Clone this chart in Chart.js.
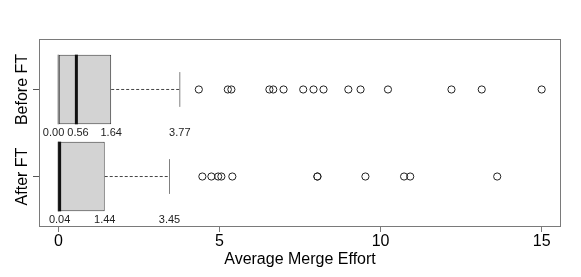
<!DOCTYPE html>
<html><head><meta charset="utf-8">
<script src="https://cdn.jsdelivr.net/npm/chart.js@4/dist/chart.umd.min.js"></script>
<style>html,body{margin:0;padding:0;background:#fff;}</style>
</head><body>
<canvas id="c" width="581" height="277"></canvas>
<script>
// ---- data ----
const groups = ['Before FT', 'After FT'];
const groupPos = [2, 1];
const lowerWhisker = [0, 0];
const q1 = [0, 0];
const median = [0.56, 0.04];
const q3 = [1.64, 1.44];
const upperWhisker = [3.77, 3.45];
const outliersBefore = [4.36, 5.26, 5.37, 6.55, 6.67, 6.99, 7.6, 7.92, 8.23, 9.0, 9.38, 10.23, 12.2, 13.14, 15.0];
const outliersAfter = [4.47, 4.75, 4.96, 5.06, 5.4, 8.04, 8.04, 9.53, 10.73, 10.92, 13.62];
const statLabelsBefore = ['0.00', '0.56', '1.64', '3.77'];
const statLabelsAfter = ['0.04', '1.44', '3.45'];
const xTicks = [0, 5, 10, 15];
const xTitle = 'Average Merge Effort';

const BOX_W = 0.8, CAP_W = 0.4;
const FONT = '"Liberation Sans", Arial, Helvetica, sans-serif';
const outliers = [outliersBefore, outliersAfter];
const statLabels = [statLabelsBefore, statLabelsAfter];

const datasets = [];
datasets.push({
  type: 'bar',
  data: groupPos.map((p, i) => ({ y: p, x: [q1[i], q3[i]] })),
  backgroundColor: '#d3d3d3',
  borderColor: '#3a3a3a',
  borderWidth: 1,
  borderSkipped: false,
  categoryPercentage: 1,
  barPercentage: BOX_W,
  order: 5
});
groupPos.forEach((p, i) => {
  // upper whisker (dashed)
  datasets.push({ type: 'line', data: [{ x: q3[i], y: p }, { x: upperWhisker[i], y: p }],
    borderColor: '#444', borderWidth: 1, borderDash: [3, 2], pointRadius: 0, order: 4 });
  // lower whisker
  datasets.push({ type: 'line', data: [{ x: lowerWhisker[i], y: p }, { x: q1[i], y: p }],
    borderColor: '#444', borderWidth: 1, borderDash: [3, 2], pointRadius: 0, order: 4 });
  // caps
  datasets.push({ type: 'line', data: [{ x: upperWhisker[i], y: p - CAP_W / 2 }, { x: upperWhisker[i], y: p + CAP_W / 2 }],
    borderColor: '#808080', borderWidth: 1, pointRadius: 0, order: 4 });
  datasets.push({ type: 'line', data: [{ x: lowerWhisker[i], y: p - BOX_W / 2 }, { x: lowerWhisker[i], y: p + BOX_W / 2 }],
    borderColor: '#8a8a8a', borderWidth: 1.5, pointRadius: 0, order: 2 });
  // median
  datasets.push({ type: 'line', data: [{ x: median[i], y: p - BOX_W / 2 }, { x: median[i], y: p + BOX_W / 2 }],
    borderColor: '#111', borderWidth: 3, pointRadius: 0, order: 1 });
  // outliers
  datasets.push({ type: 'line', showLine: false, data: outliers[i].map(v => ({ x: v, y: p })),
    pointRadius: 3.6, pointBorderWidth: 1, pointBorderColor: '#222', pointBackgroundColor: 'rgba(0,0,0,0)', order: 0 });
});

const decorPlugin = {
  id: 'decor',
  afterDatasetsDraw(chart) {
    const ctx = chart.ctx, a = chart.chartArea;
    const xs = chart.scales.x, ys = chart.scales.y;
    ctx.save();
    // frame
    ctx.strokeStyle = '#7a7a7a'; ctx.lineWidth = 1;
    ctx.strokeRect(Math.round(a.left) + 0.5, Math.round(a.top) + 0.5, Math.round(a.right - a.left) - 1, Math.round(a.bottom - a.top) - 1);
    // stat labels
    ctx.font = '11px ' + FONT; ctx.fillStyle = '#222'; ctx.textAlign = 'center'; ctx.textBaseline = 'middle';
    statLabels.forEach((labs, i) => {
      const y = ys.getPixelForValue(groupPos[i] - 0.5);
      const items = labs.map(t => ({ t, w: ctx.measureText(t).width, c: xs.getPixelForValue(parseFloat(t)) }));
      for (let k = items.length - 2; k >= 0; k--) {
        const nextLeft = items[k + 1].c - items[k + 1].w / 2;
        if (items[k].c + items[k].w / 2 > nextLeft - 3) {
          const shift = (items[k].c + items[k].w / 2 - (nextLeft - 3));
          items[k].c -= shift * 0.75; items[k + 1].c += shift * 0.25;
        }
      }
      items.forEach(it => ctx.fillText(it.t, it.c, y));
    });
    // group labels (rotated)
    ctx.font = '16px ' + FONT; ctx.fillStyle = '#000';
    groups.forEach((g, i) => {
      const y = ys.getPixelForValue(groupPos[i]);
      ctx.save(); ctx.translate(23, y); ctx.rotate(-Math.PI / 2);
      ctx.textAlign = 'center'; ctx.textBaseline = 'middle';
      ctx.fillText(g, 0, 0); ctx.restore();
    });
    ctx.restore();
  }
};

new Chart(document.getElementById('c'), {
  type: 'bar',
  data: { datasets },
  options: {
    responsive: false, animation: false, devicePixelRatio: 1,
    indexAxis: 'y',
    layout: { padding: { top: 39, right: 20, left: 0, bottom: 0 } },
    plugins: { legend: { display: false }, tooltip: { enabled: false } },
    scales: {
      x: {
        type: 'linear', min: -0.6, max: 15.6, offset: false,
        afterBuildTicks: s => { s.ticks = xTicks.map(v => ({ value: v })); },
        afterFit: s => { s.height = 50; },
        grid: { drawOnChartArea: false, drawTicks: true, tickLength: 5, color: '#7a7a7a' },
        border: { display: false },
        ticks: { color: '#000', font: { family: FONT, size: 16 }, padding: 0, maxRotation: 0, autoSkip: false },
        title: { display: true, text: xTitle, color: '#000', font: { family: FONT, size: 16 }, padding: { top: 0, bottom: 8 } }
      },
      y: {
        type: 'linear', min: 0.42, max: 2.58, offset: false,
        afterBuildTicks: s => { s.ticks = groupPos.map(v => ({ value: v })); },
        afterFit: s => { s.width = 39; },
        grid: { drawOnChartArea: false, drawTicks: true, tickLength: 6, color: '#555', offset: false },
        border: { display: false },
        ticks: { display: false }
      }
    }
  },
  plugins: [decorPlugin]
});
</script>
</body></html>
